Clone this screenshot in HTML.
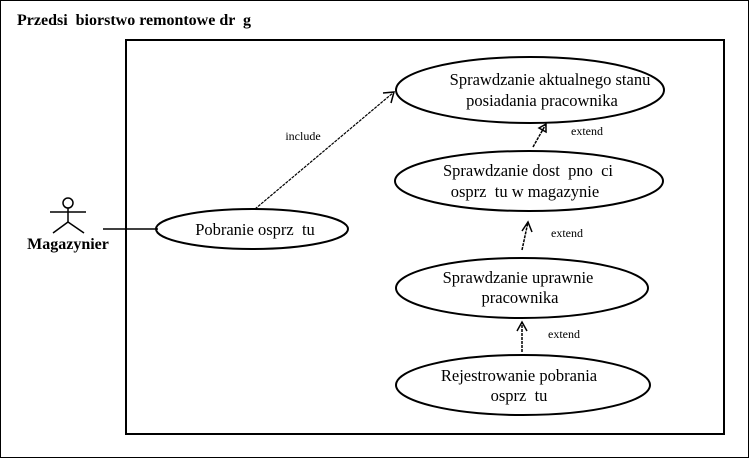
<!DOCTYPE html>
<html><head><meta charset="utf-8"><style>
html,body{margin:0;padding:0;background:#fff;}
svg{display:block;}
text{font-family:"Liberation Serif",serif;fill:#000;white-space:pre;}
</style></head><body>
<svg width="750" height="459" viewBox="0 0 750 459" xml:space="preserve">
<rect x="0.5" y="0.5" width="748" height="457" fill="#fff" stroke="#000" stroke-width="1"/>
<text x="17" y="25" font-size="16" font-weight="bold">Przedsi  biorstwo remontowe dr  g</text>
<rect x="126" y="40" width="598" height="394" fill="none" stroke="#000" stroke-width="2"/>
<circle cx="68" cy="203" r="5" fill="none" stroke="#000" stroke-width="1.5"/>
<line x1="68" y1="208" x2="68" y2="222" stroke="#000" stroke-width="1.5"/>
<line x1="50" y1="212" x2="86" y2="212" stroke="#000" stroke-width="1.5"/>
<line x1="68" y1="222" x2="53" y2="233" stroke="#000" stroke-width="1.5"/>
<line x1="68" y1="222" x2="84" y2="233" stroke="#000" stroke-width="1.5"/>
<text x="68" y="249" font-size="16" font-weight="bold" text-anchor="middle">Magazynier</text>
<line x1="103" y1="229" x2="158" y2="229" stroke="#000" stroke-width="1.5"/>
<g fill="none" stroke="#000" stroke-width="2">
<ellipse cx="252" cy="229" rx="96" ry="20"/>
<ellipse cx="530" cy="90" rx="134" ry="33"/>
<ellipse cx="529" cy="181" rx="134" ry="30"/>
<ellipse cx="522" cy="288" rx="126" ry="30"/>
<ellipse cx="523" cy="385" rx="127" ry="30"/>
</g>
<g font-size="16.5" text-anchor="middle">
<text x="255" y="235">Pobranie osprz  tu</text>
<text x="550" y="85">Sprawdzanie aktualnego stanu</text>
<text x="542" y="106">posiadania pracownika</text>
<text x="528" y="176">Sprawdzanie dost  pno  ci</text>
<text x="525" y="197">osprz  tu w magazynie</text>
<text x="518" y="283">Sprawdzanie uprawnie</text>
<text x="520" y="303">pracownika</text>
<text x="519" y="381">Rejestrowanie pobrania</text>
<text x="519" y="401">osprz  tu</text>
</g>
<line x1="255" y1="209" x2="394" y2="92" stroke="#000" stroke-width="1.2" stroke-dasharray="3,1"/>
<path d="M383,93 L394,92 L391,103" fill="none" stroke="#000" stroke-width="1.5"/>
<text x="303" y="140" font-size="12" text-anchor="middle">include</text>
<g stroke="#000" stroke-width="1.5" fill="none">
<line x1="533" y1="147" x2="546" y2="124" stroke-dasharray="3,1"/>
<path d="M539,128 L546,124 L546,132 Z"/>
<line x1="522" y1="250" x2="528" y2="222" stroke-dasharray="3,1"/>
<path d="M522,231 L528,222 L532,232"/>
<line x1="522" y1="352" x2="522" y2="322" stroke-dasharray="3,1"/>
<path d="M517,331 L522,322 L527,331"/>
</g>
<g font-size="12" text-anchor="middle">
<text x="587" y="135">extend</text>
<text x="567" y="237">extend</text>
<text x="564" y="338">extend</text>
</g>
</svg>
</body></html>
